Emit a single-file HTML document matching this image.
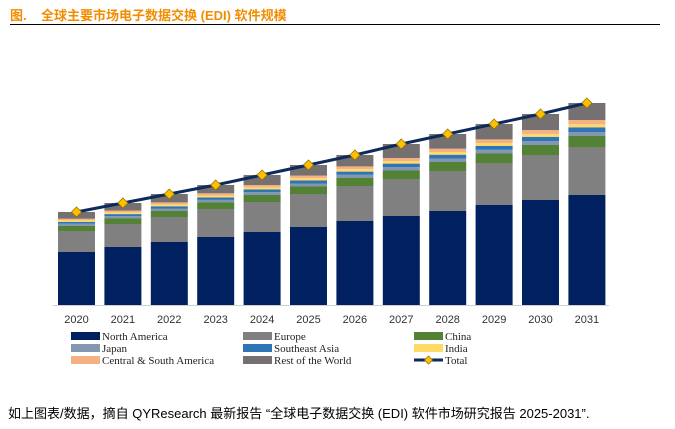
<!DOCTYPE html>
<html><head><meta charset="utf-8"><style>
body{margin:0;width:675px;height:429px;background:#fff;overflow:hidden;position:relative;font-family:"Liberation Sans","Noto Sans CJK SC",sans-serif}
#title{position:absolute;left:10px;top:5px;font-size:13px;font-weight:bold;color:#F28C00;white-space:nowrap}
#rule{position:absolute;left:10px;top:24px;width:650px;height:1px;background:#000}
#foot{position:absolute;left:8px;top:403px;font-size:13px;color:#000;white-space:nowrap}
</style></head><body>
<div id="title">图.&nbsp;&nbsp;&nbsp;&nbsp;全球主要市场电子数据交换 (EDI) 软件规模</div>
<div id="rule"></div>
<svg id="chart" width="675" height="429" style="position:absolute;left:0;top:0"></svg>
<div id="foot">如上图表/数据，摘自 QYResearch 最新报告 “全球电子数据交换 (EDI) 软件市场研究报告 2025-2031”.</div>
<script>
const years=["2020","2021","2022","2023","2024","2025","2026","2027","2028","2029","2030","2031"];
const northAmerica=[53,58,63,68,73,78,84,89,94,100,105,110];
const europe=[21,23,25,28,30,33,35,37,40,42,45,48];
const china=[5,5.5,6,6.5,7,7.5,8,8.5,9,9.5,10,11];
const japan=[2.3,2.4,2.5,2.6,2.8,3,3.2,3.4,3.5,3.7,3.9,4];
const seAsia=[1.7,2,2.2,2.4,2.7,3,3.2,3.5,3.8,4,4.3,4.7];
const india=[1.7,1.8,1.9,2,2.1,2.3,2.4,2.6,2.7,2.8,2.9,3];
const csAmerica=[1.6,1.8,2,2.2,2.4,2.6,2.8,3,3.3,3.6,3.9,4.3];
const restWorld=[6.7,7.5,8.4,8.3,10,10.6,11.4,14,14.7,15.4,16,17];
const series=[["north-america",northAmerica,"#002060"],["europe",europe,"#808080"],["china",china,"#548235"],["japan",japan,"#8497B0"],["southeast-asia",seAsia,"#2E75B6"],["india",india,"#FFD966"],["central-south-america",csAmerica,"#F4B183"],["rest-of-world",restWorld,"#767171"]];
const svg=document.getElementById('chart');const NS="http://www.w3.org/2000/svg";
const base=305,yMax=260,plotH=260;
function y(v){return base-v/yMax*plotH;}
function xc(i){return 76.5+i*46.4;}
const bw=37;
function mk(t,a){const e=document.createElementNS(NS,t);for(const k in a)e.setAttribute(k,a[k]);svg.appendChild(e);return e;}
const totals=years.map((_,i)=>series.reduce((s,r)=>s+r[1][i],0));
years.forEach((yr,i)=>{let acc=0;
 series.forEach(s=>{const v=s[1][i];const r=mk('rect',{x:xc(i)-bw/2,y:y(acc+v),width:bw,height:y(acc)-y(acc+v),fill:s[2]});
 
 acc+=v;});
 const t=mk('text',{x:xc(i),y:323,'font-size':11,'text-anchor':'middle',fill:'#333','font-family':'Liberation Sans'});t.textContent=yr;
 
 
});
const ax=mk('line',{x1:53,x2:609,y1:base+0.5,y2:base+0.5,stroke:'#d0d0d0'});


const pl=mk('polyline',{points:totals.map((v,i)=>xc(i)+','+y(v)).join(' '),fill:'none',stroke:'#0E2A5C','stroke-width':3});


totals.forEach((v,i)=>{const cx=xc(i),cy=y(v);const p=mk('polygon',{points:`${cx},${cy-5} ${cx+5},${cy} ${cx},${cy+5} ${cx-5},${cy}`,fill:'#FFC000',stroke:'#9a7400','stroke-width':0.8});

});
const legend=[["North America","#002060",71,336],["Europe","#808080",243,336],["China","#548235",414,336],["Japan","#8497B0",71,348],["Southeast Asia","#2E75B6",243,348],["India","#FFD966",414,348],["Central & South America","#F4B183",71,360],["Rest of the World","#767171",243,360],["Total",null,414,360]];
legend.forEach(l=>{
 if(l[1]){const r=mk('rect',{x:l[2],y:l[3]-4,width:29,height:8,fill:l[1]});
 
 }
 else{const ln=mk('line',{x1:l[2],x2:l[2]+29,y1:l[3],y2:l[3],stroke:'#0E2A5C','stroke-width':3});
 
 
 const cx=l[2]+14.5,cy=l[3];const d=mk('polygon',{points:`${cx},${cy-4} ${cx+4},${cy} ${cx},${cy+4} ${cx-4},${cy}`,fill:'#FFC000',stroke:'#9a7400','stroke-width':0.8});
 
 }
 const t=mk('text',{x:l[2]+31,y:l[3]+4,'font-size':11,fill:'#222','font-family':'Liberation Serif'});t.textContent=l[0];
 
 
});
</script>
</body></html>
